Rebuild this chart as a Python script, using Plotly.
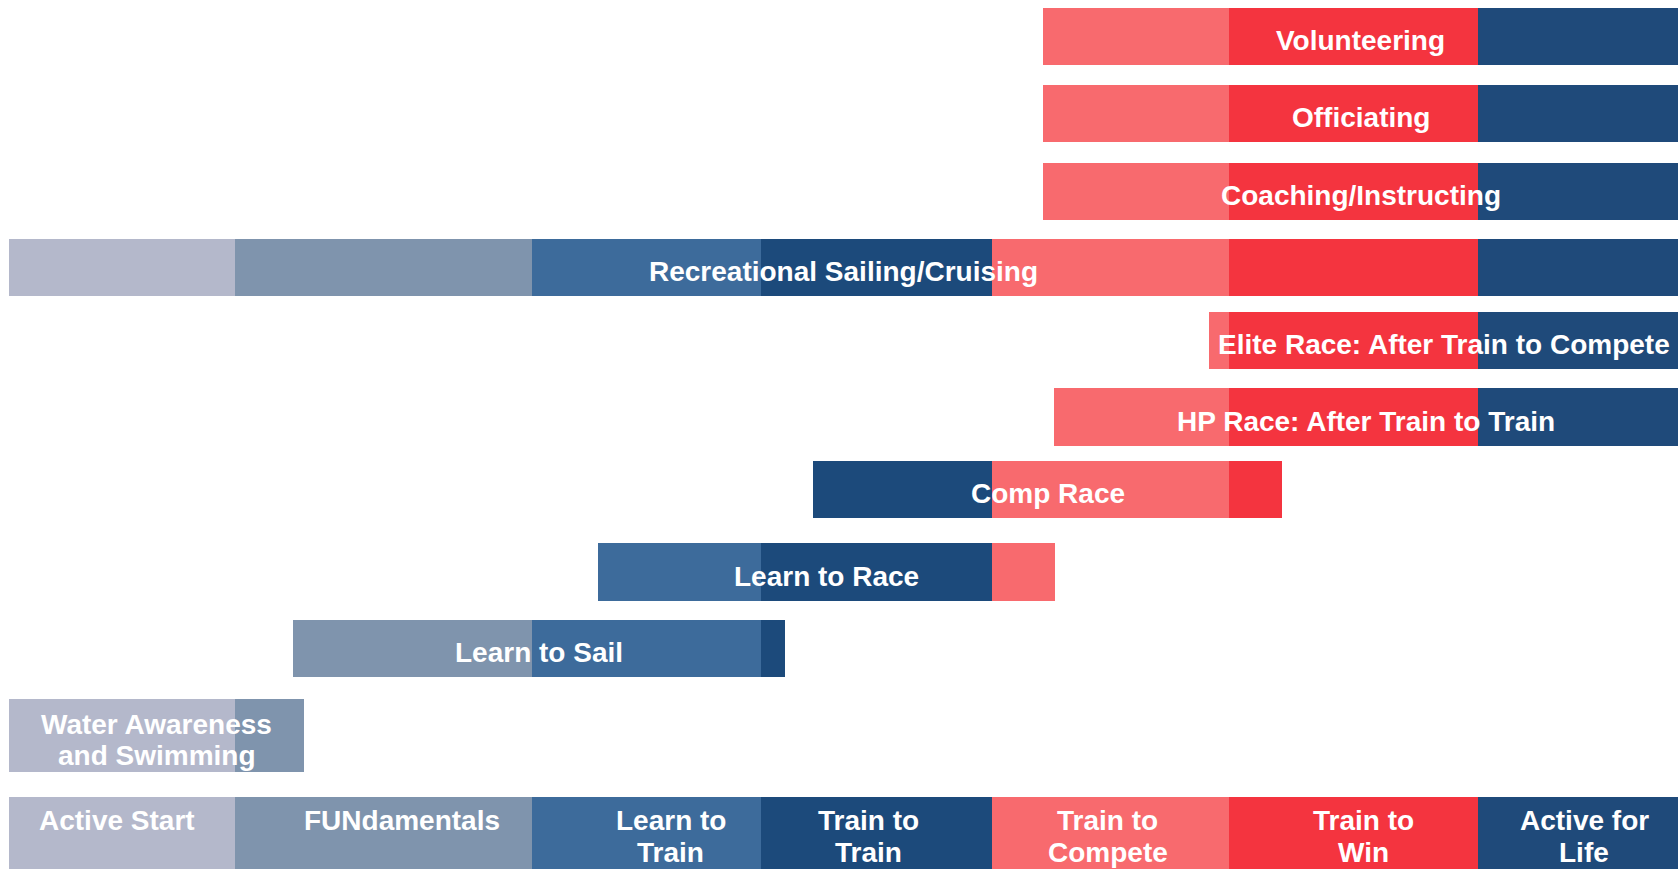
import plotly.graph_objects as go

# ---------------- data ----------------
stage_labels = ["Active Start", "FUNdamentals", "Learn to<br>Train", "Train to<br>Train",
                "Train to<br>Compete", "Train to<br>Win", "Active for<br>Life"]
stage_edges = [9, 235, 532, 761, 992, 1229, 1478, 1678]

activities = ["Volunteering", "Officiating", "Coaching/Instructing",
              "Recreational Sailing/Cruising", "Elite Race: After Train to Compete",
              "HP Race: After Train to Train", "Comp Race", "Learn to Race",
              "Learn to Sail", "Water Awareness<br>and Swimming"]
act_start = [1043, 1043, 1043, 9, 1209, 1054, 813, 598, 293, 9]
act_end = [1678, 1678, 1678, 1678, 1678, 1678, 1282, 1055, 785, 304]

# ---------------- layout / style ----------------
stage_colors = ["#b4b8cb", "#7f94ad", "#3d6b9b", "#1c4a7b", "#f86a6e", "#f4343f", "#1f4a7a"]
row_centers = [36.5, 113.5, 191.5, 267.5, 340.5, 417, 489.5, 572, 648.5, 735.5]
row_heights = [57, 57, 57, 57, 57, 58, 57, 58, 57, 73]
stage_row_top = 797
stage_row_height = 85
stage_label_shift = [-5, 18, 24, -8, -3, 10, 6]
TEXT_DY = 4
W, H = 1678, 869
FONT = "Liberation Sans, Arial, Helvetica, sans-serif"
FS = 28

fig = go.Figure()

rows_all = list(zip(act_start, act_end, row_centers, row_heights))
rows_all.append((stage_edges[0], stage_edges[-1], stage_row_top + stage_row_height / 2, stage_row_height))

for i, col in enumerate(stage_colors):
    lo, hi = stage_edges[i], stage_edges[i + 1]
    bases, lens, ys, ws = [], [], [], []
    for s, e, yc, h in rows_all:
        a, b = max(s, lo), min(e, hi)
        if b > a:
            bases.append(a)
            lens.append(b - a)
            ys.append(yc)
            ws.append(h)
    fig.add_trace(go.Bar(
        orientation="h", base=bases, x=lens, y=ys, width=ws,
        marker=dict(color=col, line=dict(width=0)),
        showlegend=False, hoverinfo="skip"))

annotations = []
for name, s, e, yc in zip(activities, act_start, act_end, row_centers):
    lines = name.split("<br>")
    n = len(lines)
    for k, ln in enumerate(lines):
        annotations.append(dict(
            x=(s + e) / 2, y=yc + TEXT_DY + (k - (n - 1) / 2) * 31, xref="x", yref="y",
            text="<b>" + ln + "</b>", showarrow=False,
            font=dict(family=FONT, size=FS, color="white"),
            xanchor="center", yanchor="middle"))

for i, lab in enumerate(stage_labels):
    cx = (stage_edges[i] + stage_edges[i + 1]) / 2 + stage_label_shift[i]
    for k, ln in enumerate(lab.split("<br>")):
        annotations.append(dict(
            x=cx, y=stage_row_top + 23 + k * 32, xref="x", yref="y",
            text="<b>" + ln + "</b>", showarrow=False,
            font=dict(family=FONT, size=FS, color="white"),
            xanchor="center", yanchor="middle"))

fig.update_layout(
    width=W, height=H, autosize=False,
    margin=dict(l=0, r=0, t=0, b=0),
    paper_bgcolor="white", plot_bgcolor="white",
    barmode="overlay", bargap=0,
    xaxis=dict(range=[0, W], visible=False, fixedrange=True),
    yaxis=dict(range=[H, 0], visible=False, fixedrange=True),
    annotations=annotations,
)

fig.write_html("out.html", config={"displayModeBar": False},
               post_script="document.body.style.margin='0';document.body.style.overflow='hidden';")
